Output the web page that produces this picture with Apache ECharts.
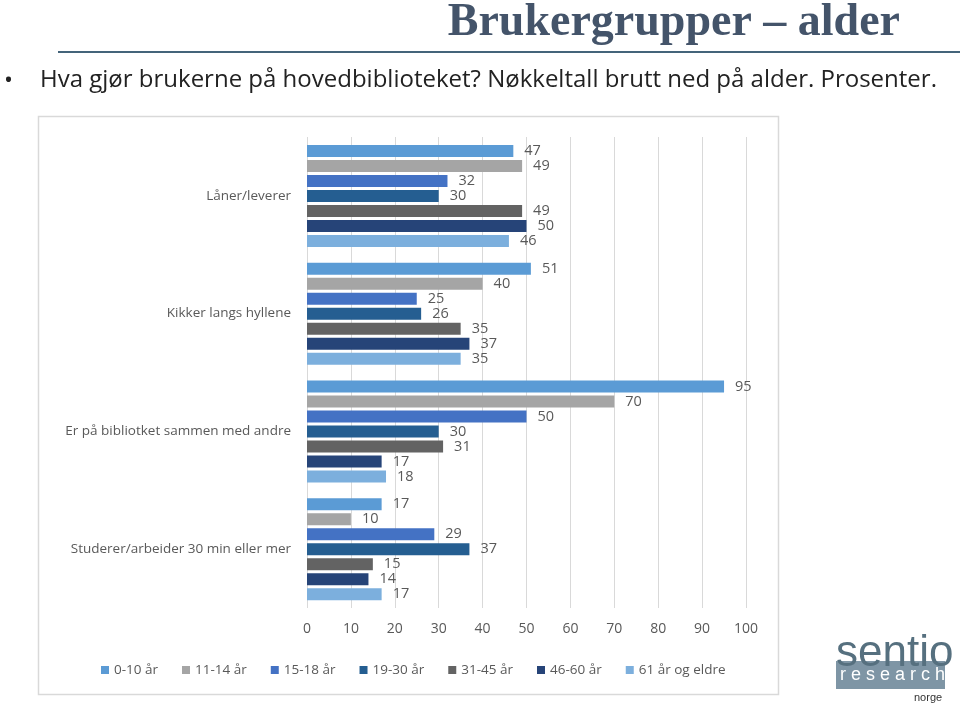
<!DOCTYPE html>
<html><head><meta charset="utf-8">
<script src="https://cdn.jsdelivr.net/npm/echarts@6/dist/echarts.min.js"></script>
<style>html,body{margin:0;padding:0;background:#fff}#c{width:960px;height:715px}</style>
</head><body><div id="c"></div>
<script>
const categories = ["Låner/leverer", "Kikker langs hyllene", "Er på bibliotket sammen med andre", "Studerer/arbeider 30 min eller mer"];
const seriesNames = ["0-10 år", "11-14 år", "15-18 år", "19-30 år", "31-45 år", "46-60 år", "61 år og eldre"];
const v0_10 = [47, 51, 95, 17];
const v11_14 = [49, 40, 70, 10];
const v15_18 = [32, 25, 50, 29];
const v19_30 = [30, 26, 30, 37];
const v31_45 = [49, 35, 31, 15];
const v46_60 = [50, 37, 17, 14];
const v61 = [46, 35, 18, 17];
const xTicks = [0, 10, 20, 30, 40, 50, 60, 70, 80, 90, 100];

const values = [v0_10, v11_14, v15_18, v19_30, v31_45, v46_60, v61];
const colors = ["#5B9BD5", "#A5A5A5", "#4472C4", "#255E91", "#636363", "#264478", "#7CAFDD"];
const font = "'Open Sans', 'Noto Sans', sans-serif";

const chart = echarts.init(document.getElementById('c'), null, {renderer: 'canvas'});
chart.setOption({
  animation: false,
  backgroundColor: '#fff',
  graphic: [
    {type: 'rect', shape: {x: 38.5, y: 116.5, width: 740, height: 578}, style: {fill: 'none', stroke: '#d9d9d9', lineWidth: 1.5}, z: -1},
    {type: 'text', right: 60, top: 0, style: {text: 'Brukergrupper – alder', font: "bold 46px 'Liberation Serif', 'DejaVu Serif', serif", fill: '#44546A'}},
    {type: 'line', shape: {x1: 58, y1: 52, x2: 960, y2: 52}, style: {stroke: '#44647A', lineWidth: 2}},
    {type: 'text', left: 4, top: 69, style: {text: '•', font: "24px " + font, fill: '#222'}},
    {type: 'text', left: 40, top: 68, style: {text: 'Hva gjør brukerne på hovedbiblioteket? Nøkkeltall brutt ned på alder. Prosenter.', font: "24px " + font, fill: '#222'}},
    {type: 'rect', shape: {x: 836, y: 661, width: 109, height: 28}, style: {fill: '#7E95A5'}},
    {type: 'text', left: 836, top: 632, style: {text: 'sentio', font: "44px 'Liberation Sans', sans-serif", fill: '#56707F'}},
    {type: 'text', left: 840, top: 666, style: {text: 'r e s e a r c h', font: "18px 'Liberation Sans', sans-serif", fill: '#ffffff'}},
    {type: 'text', left: 914, top: 692, style: {text: 'norge', font: "11px 'Liberation Sans', sans-serif", fill: '#333'}}
  ],
  legend: {
    left: 96, top: 658, itemWidth: 8, itemHeight: 8, itemGap: 24, icon: 'rect',
    textStyle: {color: '#595959', fontSize: 13.5, fontFamily: font},
    data: seriesNames
  },
  grid: {left: 307, right: 214, top: 137, bottom: 107, containLabel: false},
  xAxis: {
    type: 'value', min: 0, max: 100, interval: 10,
    axisLine: {show: false}, axisTick: {show: false},
    splitLine: {lineStyle: {color: '#d9d9d9'}},
    axisLabel: {color: '#595959', fontSize: 14, fontFamily: font, margin: 14,
      formatter: v => xTicks.includes(v) ? String(v) : ''}
  },
  yAxis: {
    type: 'category', data: categories, inverse: true,
    axisLine: {show: false}, axisTick: {show: false},
    axisLabel: {color: '#595959', fontSize: 13.5, fontFamily: font, margin: 16}
  },
  series: seriesNames.map((name, i) => ({
    name, type: 'bar', data: values[i], barWidth: 12, barGap: '25%',
    itemStyle: {color: colors[i]},
    label: {show: true, position: 'right', distance: 11, color: '#595959', fontSize: 14.5, fontFamily: font}
  }))
});
</script></body></html>
